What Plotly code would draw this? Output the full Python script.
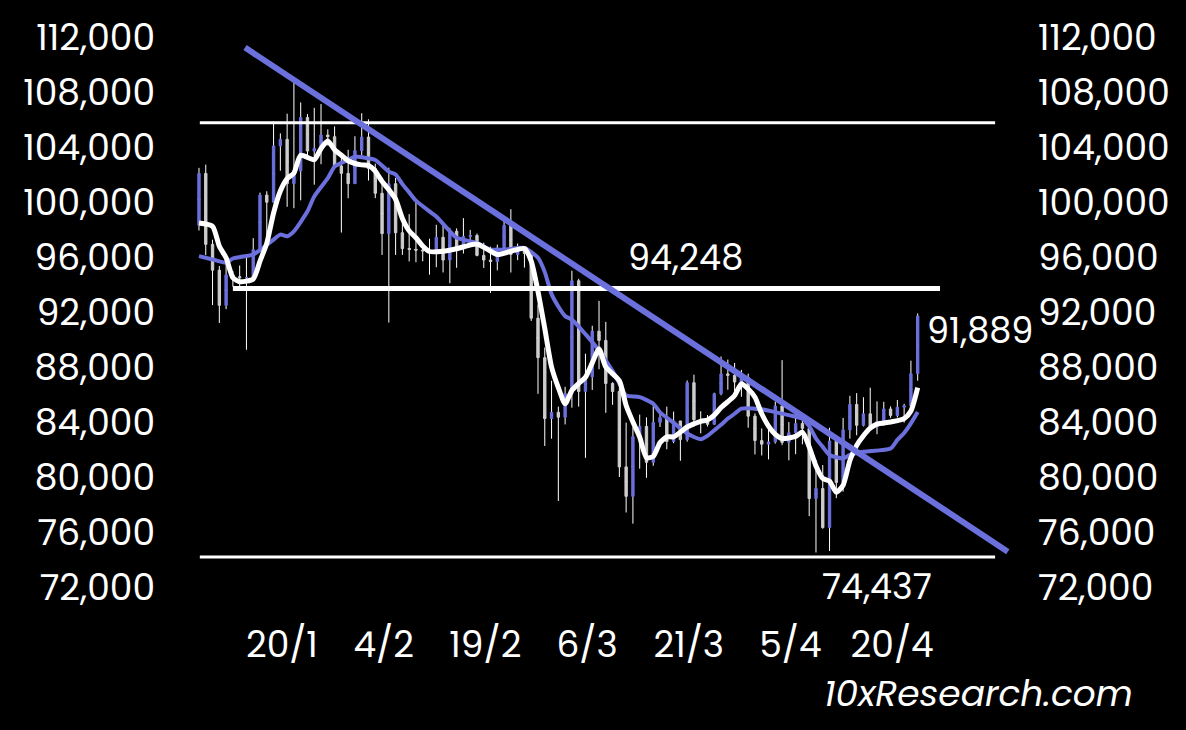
import plotly.graph_objects as go
import pandas as pd

# ---------------- data ----------------
dates = pd.date_range("2025-01-06", periods=107, freq="D")

opens = [98314,102078,96923,95043,92484,94701,94566,94488,94516,96534,100504,99987,104077,104556,101331,102260,106143,103706,103910,104870,
         104746,102620,102082,101335,103734,104722,102430,100636,97700,101329,97763,96612,96555,96506,96444,96462,97430,95778,97870,96608,
         97500,97569,96118,95780,95671,96644,98305,96181,96551,96258,91552,88680,84250,84708,84350,86064,94270,86220,87281,90606,
         89931,86801,86222,80734,78595,82932,83680,81067,83969,84343,82580,84075,82719,86855,84167,84043,83832,86054,87498,87391,
         86910,87232,84424,82648,82390,82550,85158,82516,83213,83890,83537,78430,79163,76323,82615,79607,83424,85276,83760,84591,
         83643,84030,84947,84474,85077,85179,87516]
highs = [102482,102724,97259,95340,95836,94977,95378,95940,97371,100681,100781,105865,104988,106422,108900,107240,106394,106850,107120,105286,
         105500,103260,103800,104782,106457,106012,102783,101456,102500,101745,99149,99120,100137,96880,97323,98345,98478,98119,98083,98826,
         97972,97704,97046,96753,96899,98711,99475,96980,96650,96500,92540,89414,87000,85120,86558,95000,94416,88967,91000,92810,
         91283,86897,86500,83955,83617,84539,84336,85310,84672,85117,84756,84075,87021,87443,84782,84513,86129,88765,88539,88292,
         87786,87515,84624,83534,83943,85487,88500,83998,84720,84266,83817,81243,80867,83588,82753,84300,85905,86100,85799,86496,
         85500,85470,85132,85600,85320,88460,91889]
lows = [97926,96132,92500,91203,92206,93840,93712,89256,94346,96500,97352,99950,102277,99651,99550,100119,103340,101262,102750,104106,
        102520,97777,100272,101328,103321,101560,100279,96150,91231,96150,96155,95676,95620,95688,94713,95256,94876,94088,95217,96252,
        97223,96046,95205,93388,95029,96415,94871,95770,95227,91350,86050,82256,82786,78258,83824,85040,85118,81390,86334,87836,
        84667,85248,80000,77420,76606,80607,79940,80818,83639,82017,82457,81180,82569,83647,83171,83675,83796,85946,86346,85862,
        85837,83585,81644,81565,81279,82429,82320,81211,81659,82379,77153,74508,76239,74620,78464,78936,82792,83034,83678,83600,
        83111,83736,84303,84330,83950,85144,87000]
closes = [102078,96923,95043,92484,94701,94566,94488,94516,96534,100504,99987,104077,104556,101331,102260,106143,103706,103910,104870,104746,
          102620,102082,101335,103734,104722,102430,100636,97700,101329,97763,96612,96555,96506,96444,96462,97430,95778,97870,96608,97500,
          97569,96118,95780,95671,96644,98305,96181,96551,96258,91552,88680,84250,84708,84350,86064,94270,86220,87281,90606,89931,
          86801,86222,80734,78595,82932,83680,81067,83969,84343,82580,84075,82719,86855,84167,84043,83832,86054,87498,87391,86910,
          87232,84424,82648,82390,82550,85158,82516,83213,83890,83537,78430,79163,76323,82615,79607,83424,85276,83760,84591,83643,
          84030,84947,84474,85077,85179,87516,91700]

# short moving average (white): day index -> value
fast_idx = [0,2,3,4,5,6,8,9,10,11,12,13,14,15,17,18,19,20,21,22,23,24,25,26,27,28,29,30,31,32,33,34,36,38,41,44,46,48,49,50,51,52,53,
            54,55,56,57,58,59,60,62,63,64,65,66,67,68,69,70,72,74,75,76,77,79,80,81,82,83,84,85,86,88,89,90,91,92,93,94,95,96,97,98,99,100,102,104,105,106]
fast_val = [98470,98230,96780,95940,94490,94200,94400,95700,97000,99200,100800,101700,102100,103400,103080,103900,104430,103800,103400,103000,
            102800,102700,102650,102250,101500,100900,100200,98800,97900,97400,96800,96400,96420,96600,96950,96180,96420,96620,95700,93500,
            90800,88000,86500,85330,86300,86800,87250,88300,89310,88000,87000,85200,84000,82900,81400,81500,82500,82920,82920,83640,
            84050,84150,84500,85050,85930,86780,86400,85800,84600,83700,83100,82800,82950,83270,82190,80800,79900,79700,78900,79400,
            81200,82300,83000,83550,83850,84000,84250,84800,86500]

# longer moving average (purple)
slow_idx = [0,2,4,5,8,9,11,12,13,14,16,17,19,20,22,23,25,26,28,29,30,31,32,34,35,37,38,41,43,45,48,50,51,52,53,54,55,57,59,61,62,63,
            65,67,68,70,72,74,75,76,77,78,79,80,83,85,87,89,90,91,92,93,95,96,98,102,103,104,105,106]
slow_val = [96060,95820,95580,95890,96180,96500,97270,97630,97510,97870,99320,100400,101730,102570,103060,103300,103170,103060,102210,102000,
            101300,100700,100100,99320,98950,97870,97400,97020,96540,96540,96660,95940,94900,93300,92400,91700,91450,90390,89190,87700,
            86800,85930,85810,85330,84700,83950,83160,82750,83000,83400,83800,84250,84600,84970,84920,84720,84500,84240,83700,82800,
            82190,81600,81350,81600,81830,82070,82700,83200,83900,84720]

# horizontal levels (as drawn) and their spans
level_vals = [105755, 93710, 74185]
level_start = ["2025-01-06 03:00", "2025-01-11 00:00", "2025-01-06 03:00"]
level_end = ["2025-05-03 10:00", "2025-04-25 07:00", "2025-05-03 10:00"]
level_width = [3, 5, 3]

# down-trend line end points
trend_x = ["2025-01-12 19:00", "2025-05-05 07:00"]
trend_y = [111230, 74570]

tick_dates = ["2025-01-20", "2025-02-04", "2025-02-19", "2025-03-06", "2025-03-21", "2025-04-05", "2025-04-20"]
tick_text = ["20/1", "4/2", "19/2", "6/3", "21/3", "5/4", "20/4"]

y_ticks = list(range(72000, 112001, 4000))

PURPLE = "#6b70dc"
GRAY = "#cdcdcd"
FONT = "Poppins, Lato"

# ---------------- figure ----------------
fig = go.Figure()

mids = [(o + c) / 2 for o, c in zip(opens, closes)]
# wicks (white)
fig.add_trace(go.Candlestick(
    x=dates, open=mids, high=highs, low=lows, close=mids,
    increasing=dict(line=dict(color="white", width=1), fillcolor="white"),
    decreasing=dict(line=dict(color="white", width=1), fillcolor="white"),
    showlegend=False, hoverinfo="skip"))
# bodies
fig.add_trace(go.Candlestick(
    x=dates, open=opens, close=closes,
    high=[max(o, c) for o, c in zip(opens, closes)],
    low=[min(o, c) for o, c in zip(opens, closes)],
    increasing=dict(line=dict(color=PURPLE, width=1), fillcolor=PURPLE),
    decreasing=dict(line=dict(color=GRAY, width=1), fillcolor=GRAY),
    showlegend=False))

fig.add_trace(go.Scatter(x=[dates[i] for i in slow_idx], y=slow_val, mode="lines",
                         line=dict(color=PURPLE, width=4, shape="spline", smoothing=0.6),
                         showlegend=False))
fig.add_trace(go.Scatter(x=[dates[i] for i in fast_idx], y=fast_val, mode="lines",
                         line=dict(color="white", width=5, shape="spline", smoothing=0.6),
                         showlegend=False))

# invisible trace to carry the right-hand axis
fig.add_trace(go.Scatter(x=[dates[0]], y=[y_ticks[0]], yaxis="y2", mode="markers",
                         marker=dict(opacity=0), showlegend=False, hoverinfo="skip"))

for v, s, e, w in zip(level_vals, level_start, level_end, level_width):
    fig.add_shape(type="line", xref="x", yref="y", x0=s, x1=e, y0=v, y1=v,
                  line=dict(color="white", width=w), layer="above")

fig.add_shape(type="line", xref="x", yref="y", x0=trend_x[0], x1=trend_x[1],
              y0=trend_y[0], y1=trend_y[1], line=dict(color=PURPLE, width=6), layer="above")

ann_font = dict(family=FONT, size=35, color="white")
fig.add_annotation(x="2025-03-18 19:00", y=95950, text="94,248", showarrow=False,
                   font=ann_font, xanchor="center", yanchor="middle")
fig.add_annotation(x="2025-04-23 03:00", y=90630, text="91,889", showarrow=False,
                   font=ann_font, xanchor="left", yanchor="middle")
fig.add_annotation(x="2025-04-16 00:00", y=72036, text="74,437", showarrow=False,
                   font=ann_font, xanchor="center", yanchor="middle")
fig.add_annotation(xref="paper", yref="paper", x=1.137, y=-0.193, text="<i>10xResearch.com</i>",
                   showarrow=False, font=dict(family=FONT, size=36, color="white"),
                   xanchor="right", yanchor="middle")

x0 = pd.Timestamp("2025-01-06") - pd.Timedelta(days=2.80)
x1 = pd.Timestamp("2025-01-06") + pd.Timedelta(days=121.09)

axis_font = dict(family=FONT, size=36, color="white")
fig.update_layout(
    width=1186, height=730,
    paper_bgcolor="black", plot_bgcolor="black",
    margin=dict(l=180, r=166, t=34, b=142.5),
    boxgap=0.5,
    showlegend=False,
    xaxis=dict(range=[x0, x1], rangeslider=dict(visible=False), showgrid=False, zeroline=False,
               showline=False, tickvals=tick_dates, ticktext=tick_text, tickfont=axis_font,
               ticks="", ticklabelshift=-12, ticklabelstandoff=33),
    yaxis=dict(range=[72000, 112000], tickvals=y_ticks, tickformat=",d", showgrid=False,
               zeroline=False, showline=False, tickfont=axis_font, ticks="", ticklabelstandoff=24),
    yaxis2=dict(range=[72000, 112000], tickvals=y_ticks, tickformat=",d", overlaying="y",
                side="right", showgrid=False, zeroline=False, showline=False, tickfont=axis_font,
                ticks="", ticklabelstandoff=17),
)

fig.write_html("out.html", config={"displayModeBar": False},
               post_script="document.body.style.margin='0';document.body.style.background='black';")
